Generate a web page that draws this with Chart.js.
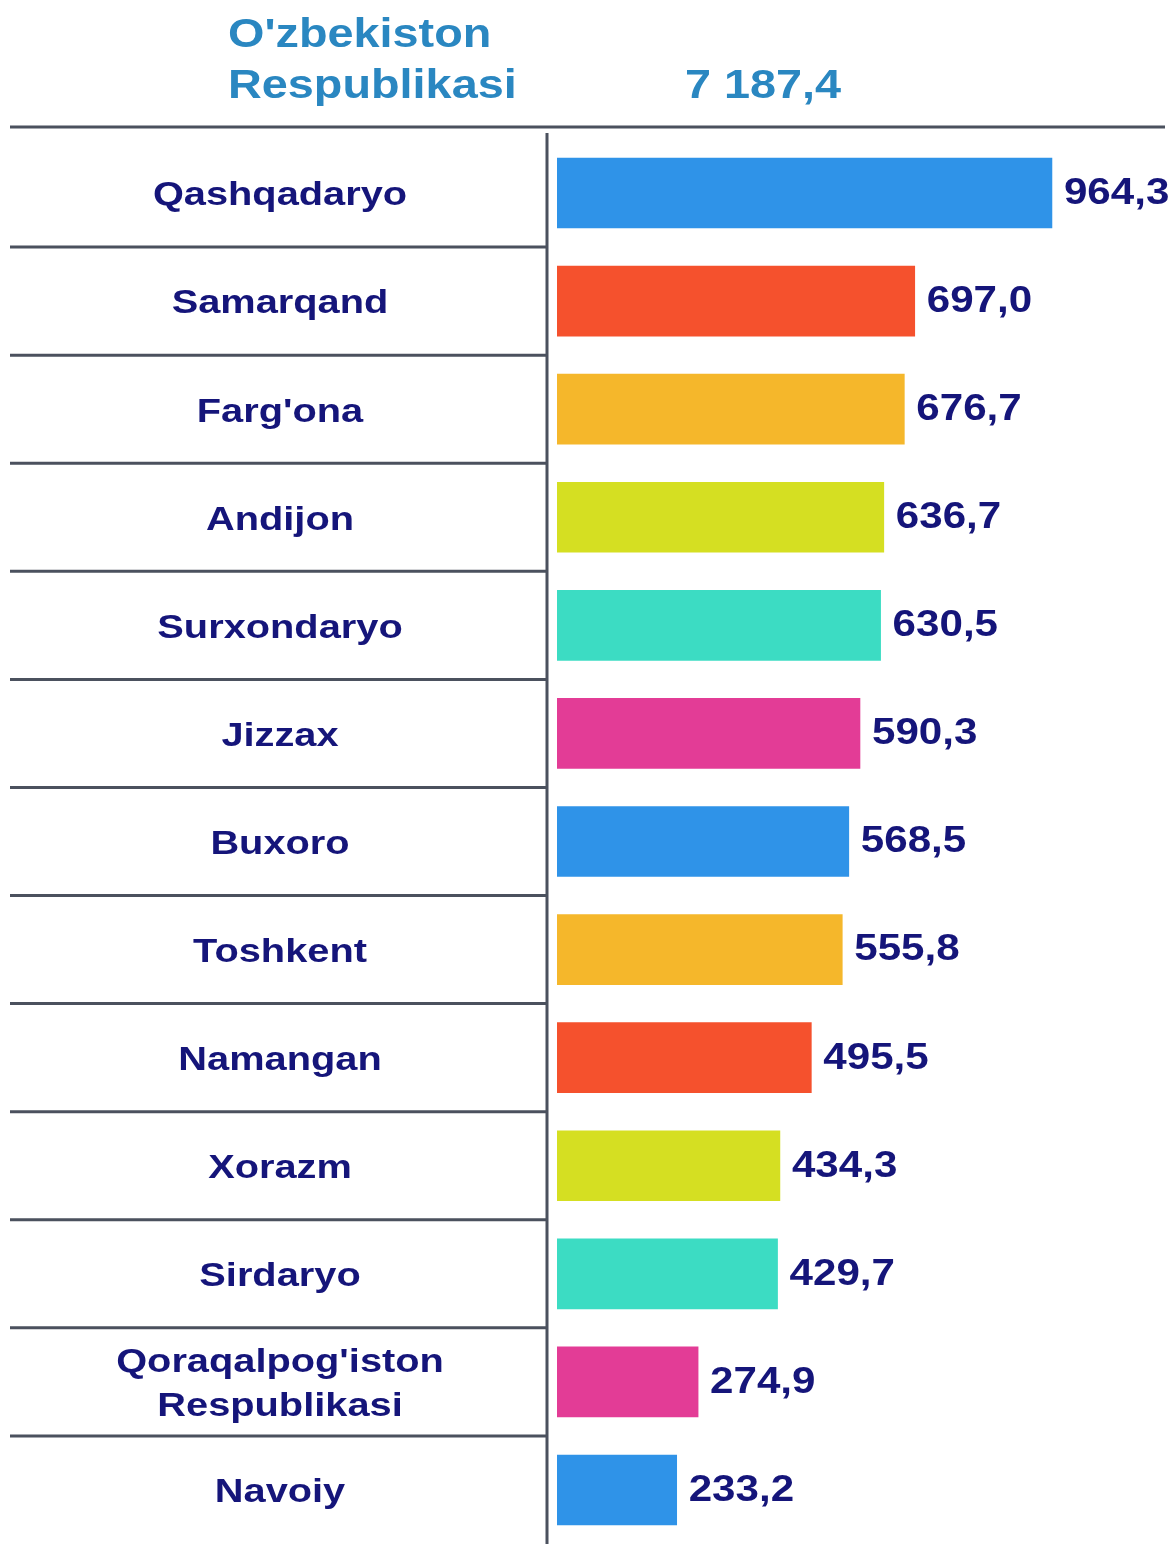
<!DOCTYPE html>
<html>
<head>
<meta charset="utf-8">
<script src="https://cdn.jsdelivr.net/npm/chart.js@4/dist/chart.umd.min.js"></script>
<style>
  html, body { margin: 0; padding: 0; background: #fff; }
  #wrap { width: 1176px; height: 1544px; position: relative; }
</style>
</head>
<body>
<div id="wrap"><canvas id="regions"></canvas></div>
<script>
// Hududlar bo'yicha qiymatlar
const regions = [
  'Qashqadaryo', 'Samarqand', "Farg'ona", 'Andijon', 'Surxondaryo', 'Jizzax',
  'Buxoro', 'Toshkent', 'Namangan', 'Xorazm', 'Sirdaryo',
  ["Qoraqalpog'iston", 'Respublikasi'], 'Navoiy',
];
const values = [964.3, 697.0, 676.7, 636.7, 630.5, 590.3, 568.5, 555.8, 495.5, 434.3, 429.7, 274.9, 233.2];
const barColors = [
  '#2f93e8', '#f5512d', '#f5b72b', '#d5df22', '#3cdcc3', '#e33c96',
  '#2f93e8', '#f5b72b', '#f5512d', '#d5df22', '#3cdcc3', '#e33c96', '#2f93e8',
];
const titleLines = ["O'zbekiston", 'Respublikasi'];
const totalValue = '7 187,4';

const NAVY = '#15157a';
const TITLE_BLUE = '#2a87c1';
const LINE = '#4b515e';
const STRETCH = 1.17;

function fmt(v) {
  return v.toFixed(1).replace('.', ',');
}

// matn biroz gorizontal cho'zilgan
function wideText(ctx, text, x, y, align) {
  ctx.save();
  ctx.translate(x, y);
  ctx.scale(STRETCH, 1);
  ctx.textAlign = align;
  ctx.fillText(text, 0, 0);
  ctx.restore();
}

const tablePlugin = {
  id: 'table',
  afterDraw(chart) {
    const ctx = chart.ctx;
    const yScale = chart.scales.y;
    const area = chart.chartArea;
    const splitX = area.left - 10;

    ctx.save();
    // sarlavha
    ctx.fillStyle = TITLE_BLUE;
    ctx.font = 'bold 40px "Liberation Sans", Arial, sans-serif';
    ctx.textBaseline = 'middle';
    wideText(ctx, titleLines[0], 228, 36, 'left');
    wideText(ctx, titleLines[1], 228, 87, 'left');
    wideText(ctx, totalValue, 685, 87, 'left');

    // chiziqlar
    ctx.strokeStyle = LINE;
    ctx.lineWidth = 3;
    ctx.beginPath();
    ctx.moveTo(10, 127);
    ctx.lineTo(1165, 127);
    ctx.moveTo(splitX, 133);
    ctx.lineTo(splitX, chart.height);
    for (let i = 0; i < regions.length - 1; i++) {
      const y = (yScale.getPixelForValue(i) + yScale.getPixelForValue(i + 1)) / 2;
      ctx.moveTo(10, y);
      ctx.lineTo(splitX, y);
    }
    ctx.stroke();

    // hudud nomlari
    ctx.fillStyle = NAVY;
    ctx.font = 'bold 34px "Liberation Sans", Arial, sans-serif';
    regions.forEach((name, i) => {
      const y = yScale.getPixelForValue(i) + 3;
      if (Array.isArray(name)) {
        wideText(ctx, name[0], 280, y - 22, 'center');
        wideText(ctx, name[1], 280, y + 22, 'center');
      } else {
        wideText(ctx, name, 280, y, 'center');
      }
    });

    // qiymatlar
    ctx.font = 'bold 36px "Liberation Sans", Arial, sans-serif';
    const meta = chart.getDatasetMeta(0);
    meta.data.forEach((bar, i) => {
      wideText(ctx, fmt(values[i]), bar.x + 12, bar.y + 1, 'left');
    });
    ctx.restore();
  },
};

new Chart(document.getElementById('regions'), {
  type: 'bar',
  data: {
    labels: regions,
    datasets: [{
      data: values,
      backgroundColor: barColors,
      borderWidth: 0,
      barThickness: 70,
    }],
  },
  options: {
    indexAxis: 'y',
    responsive: true,
    maintainAspectRatio: false,
    animation: false,
    layout: {
      padding: {left: 557, top: 139, right: 0, bottom: 0},
    },
    plugins: {
      legend: {display: false},
      tooltip: {enabled: false},
    },
    scales: {
      x: {display: false, min: 0, max: 1206},
      y: {display: false},
    },
  },
  plugins: [tablePlugin],
});
</script>
</body>
</html>
